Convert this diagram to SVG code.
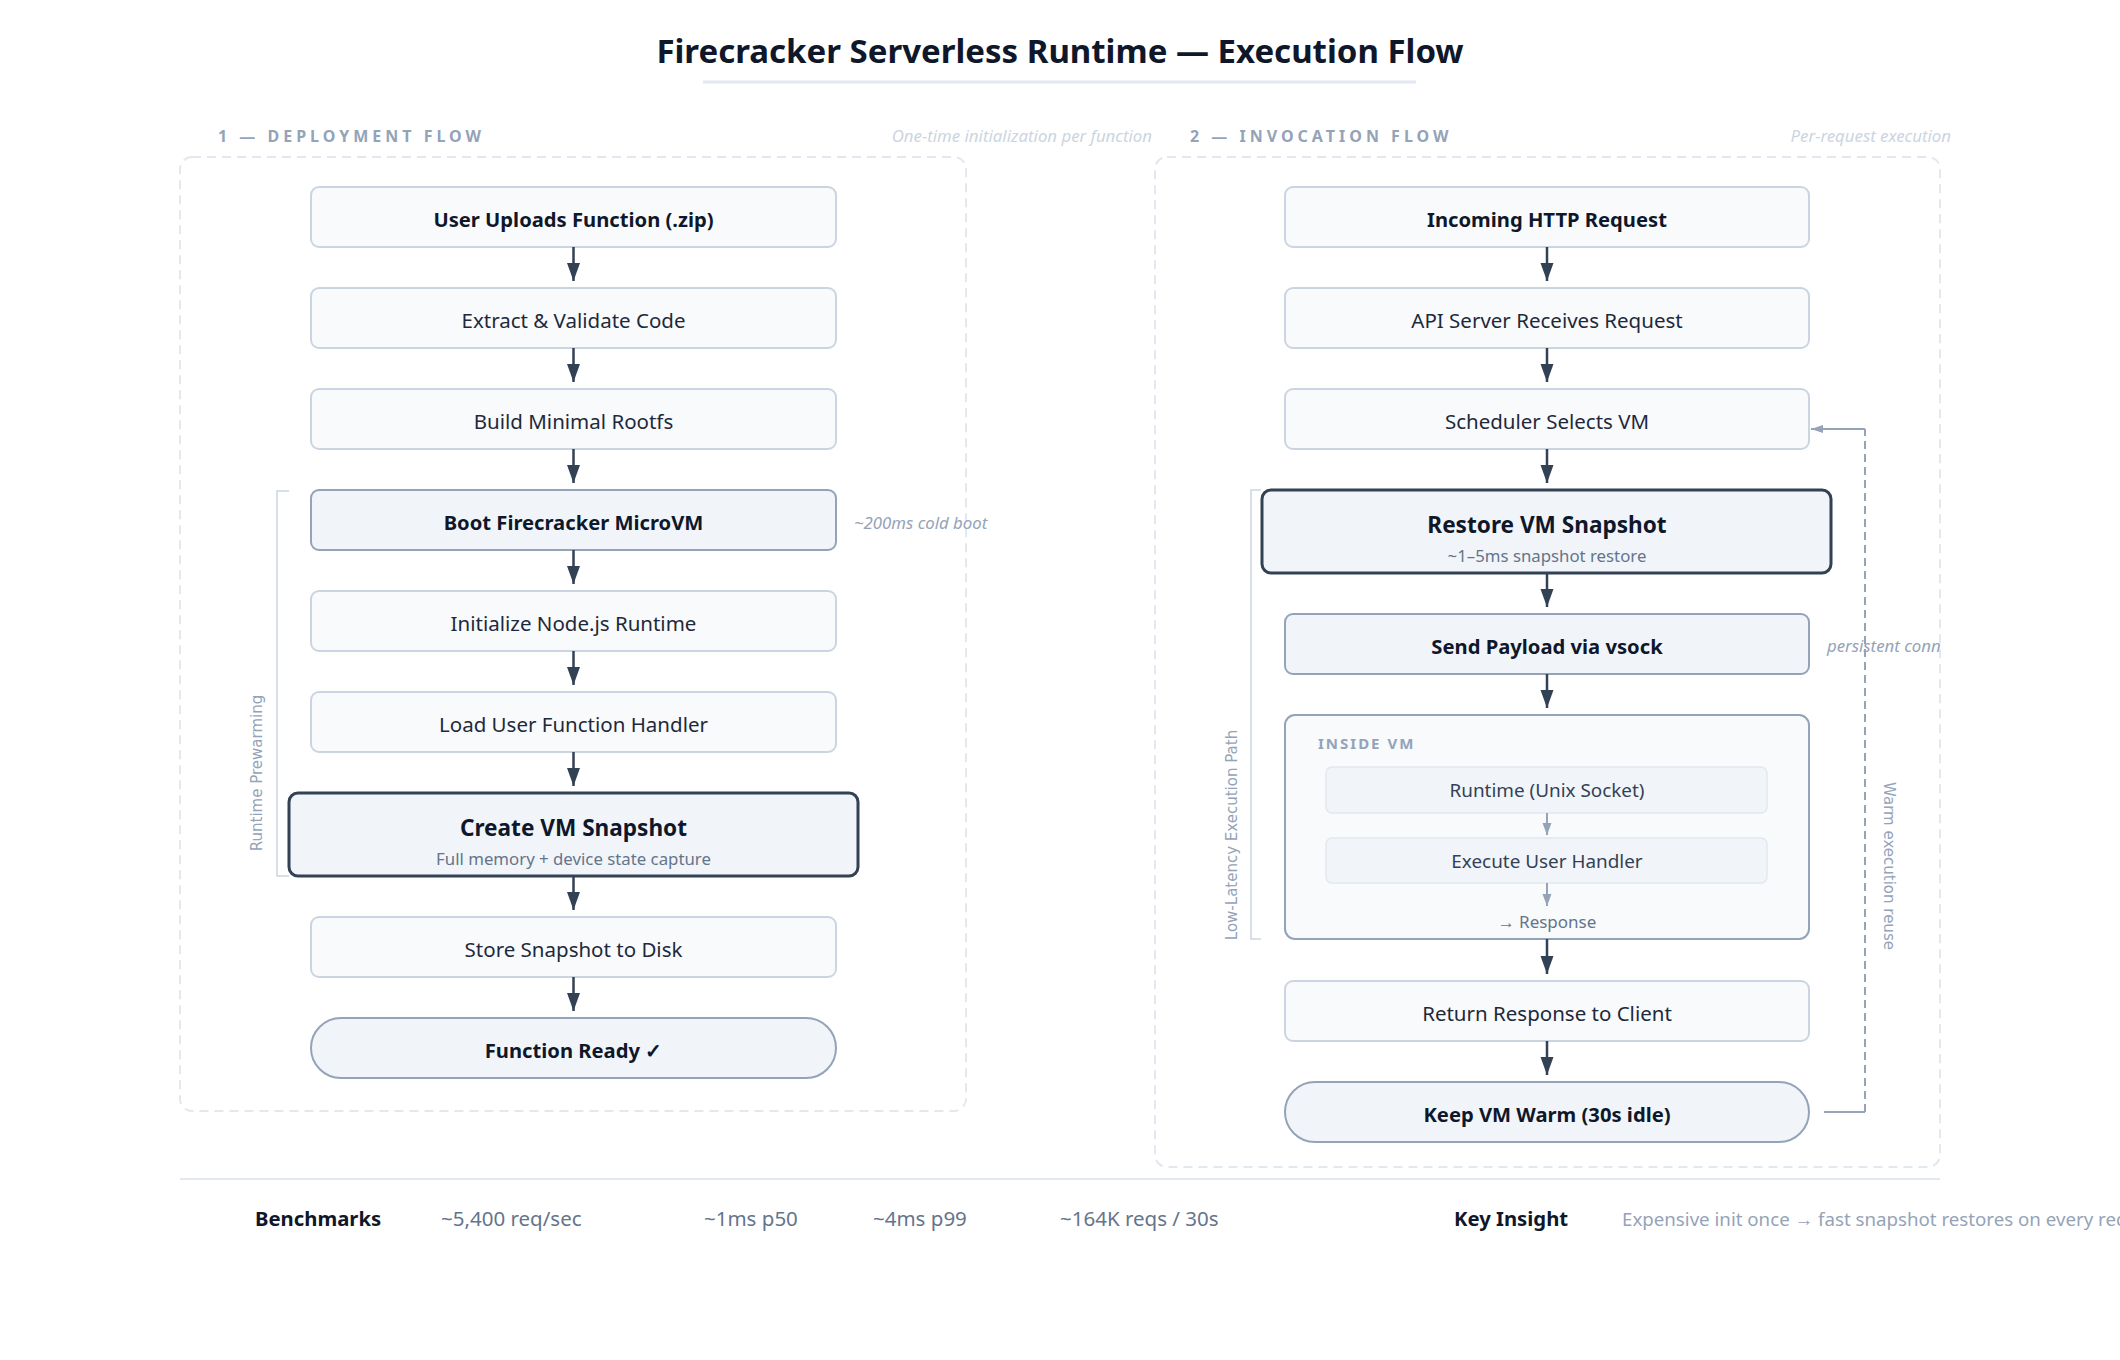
<svg xmlns="http://www.w3.org/2000/svg" width="2120" height="1360" viewBox="0 0 2120 1360">
<defs>
<style>
text{font-family:"Noto Sans","Open Sans","Liberation Sans",sans-serif;}
.title{font-size:33px;font-weight:700;fill:#0f172a;}
.sec{font-size:16px;font-weight:700;fill:#94a3b8;letter-spacing:4px;}
.secnote{font-size:16.8px;font-style:italic;fill:#cbd5e1;}
.box{fill:#f8fafc;stroke:#cbd5e1;stroke-width:2;}
.boxm{fill:#f1f5f9;stroke:#94a3b8;stroke-width:2;}
.boxk{fill:#f1f5f9;stroke:#334155;stroke-width:3;}
.lbl{font-size:20.5px;fill:#1e293b;text-anchor:middle;}
.lblb{font-size:20.2px;font-weight:700;fill:#0f172a;text-anchor:middle;}
.big{font-size:22.6px;font-weight:700;fill:#0f172a;text-anchor:middle;}
.sub{font-size:16.8px;fill:#64748b;text-anchor:middle;}
.note{font-size:16.8px;font-style:italic;fill:#94a3b8;}
.vert{font-family:"DejaVu Sans",sans-serif;font-size:15px;fill:#94a3b8;text-anchor:middle;}
.frame{fill:none;stroke:#e2e8f0;stroke-width:2;stroke-dasharray:9 6;}
.arr{stroke:#334155;stroke-width:2.5;fill:none;marker-end:url(#ah);}
.arrs{stroke:#94a3b8;stroke-width:2;fill:none;marker-end:url(#ahs);}
.brk{fill:none;stroke:#cbd5e1;stroke-width:1.5;}
.inner{fill:#f1f5f9;stroke:#e2e8f0;stroke-width:1.5;}
.ilbl{font-size:18.9px;fill:#334155;text-anchor:middle;}
.bench{font-size:20.5px;fill:#64748b;}
.benchb{font-size:20.3px;font-weight:700;fill:#0f172a;}
.insight{font-size:18.7px;fill:#94a3b8;}
</style>
<marker id="ah" markerUnits="userSpaceOnUse" markerWidth="18" markerHeight="14" refX="18" refY="6.5" orient="auto"><path d="M0,0 L18,6.5 L0,13 z" fill="#334155"/></marker>
<marker id="ahs" markerUnits="userSpaceOnUse" markerWidth="12" markerHeight="10" refX="12" refY="4.5" orient="auto"><path d="M0,0 L12,4.5 L0,9 z" fill="#94a3b8"/></marker>
<marker id="ahl" markerUnits="userSpaceOnUse" markerWidth="12" markerHeight="10" refX="12" refY="4" orient="auto"><path d="M0,0 L12,4 L0,8 z" fill="#94a3b8"/></marker>
</defs>
<rect width="2120" height="1360" fill="#ffffff"/>

<g id="header">
<text class="title" x="1060" y="63" text-anchor="middle">Firecracker Serverless Runtime — Execution Flow</text>
<line x1="703" y1="82" x2="1416" y2="82" stroke="#e2e8f0" stroke-width="3"/>
</g>

<g id="section-deployment">
<text class="sec" x="218" y="142">1 — DEPLOYMENT FLOW</text>
<text class="secnote" x="1152" y="142" text-anchor="end">One-time initialization per function</text>
<rect class="frame" x="180" y="157" width="786" height="954" rx="12"/>
</g>
<g id="section-invocation">
<text class="sec" x="1190" y="142">2 — INVOCATION FLOW</text>
<text class="secnote" x="1951" y="142" text-anchor="end">Per-request execution</text>
<rect class="frame" x="1155" y="157" width="785" height="1010" rx="12"/>
</g>

<g id="annotations">
<path class="brk" d="M289,491 H277 V876 H289"/>
<text class="vert" transform="translate(262,773) rotate(-90)">Runtime Prewarming</text>
<text class="note" x="854" y="529">~200ms cold boot</text>
<path class="brk" d="M1261,490 H1251 V939 H1261"/>
<text class="vert" transform="translate(1237,835) rotate(-90)">Low-Latency Execution Path</text>
<text class="note" x="1827" y="652">persistent conn</text>
<text class="vert" transform="translate(1884,866) rotate(90)">Warm execution reuse</text>
</g>

<g id="n-upload"><rect class="box" x="311" y="187" width="525" height="60" rx="8"/><text class="lblb" x="573.5" y="227">User Uploads Function (.zip)</text></g>
<g id="n-extract"><rect class="box" x="311" y="288" width="525" height="60" rx="8"/><text class="lbl" x="573.5" y="328">Extract &amp; Validate Code</text></g>
<g id="n-rootfs"><rect class="box" x="311" y="389" width="525" height="60" rx="8"/><text class="lbl" x="573.5" y="429">Build Minimal Rootfs</text></g>
<g id="n-boot"><rect class="boxm" x="311" y="490" width="525" height="60" rx="8"/><text class="lblb" x="573.5" y="530">Boot Firecracker MicroVM</text></g>
<g id="n-node"><rect class="box" x="311" y="591" width="525" height="60" rx="8"/><text class="lbl" x="573.5" y="631">Initialize Node.js Runtime</text></g>
<g id="n-handler"><rect class="box" x="311" y="692" width="525" height="60" rx="8"/><text class="lbl" x="573.5" y="732">Load User Function Handler</text></g>
<g id="n-snapshot"><rect class="boxk" x="289" y="793" width="569" height="83" rx="9"/><text class="big" x="573.5" y="836">Create VM Snapshot</text><text class="sub" x="573.5" y="865">Full memory + device state capture</text></g>
<g id="n-store"><rect class="box" x="311" y="917" width="525" height="60" rx="8"/><text class="lbl" x="573.5" y="957">Store Snapshot to Disk</text></g>
<g id="n-ready"><rect class="boxm" x="311" y="1018" width="525" height="60" rx="30"/><text class="lblb" x="573.5" y="1058">Function Ready ✓</text></g>

<g id="r-http"><rect class="box" x="1285" y="187" width="524" height="60" rx="8"/><text class="lblb" x="1547" y="227">Incoming HTTP Request</text></g>
<g id="r-api"><rect class="box" x="1285" y="288" width="524" height="60" rx="8"/><text class="lbl" x="1547" y="328">API Server Receives Request</text></g>
<g id="r-sched"><rect class="box" x="1285" y="389" width="524" height="60" rx="8"/><text class="lbl" x="1547" y="429">Scheduler Selects VM</text></g>
<g id="r-restore"><rect class="boxk" x="1262" y="490" width="569" height="83" rx="9"/><text class="big" x="1547" y="533">Restore VM Snapshot</text><text class="sub" x="1547" y="562">~1–5ms snapshot restore</text></g>
<g id="r-vsock"><rect class="boxm" x="1285" y="614" width="524" height="60" rx="8"/><text class="lblb" x="1547" y="654">Send Payload via vsock</text></g>
<g id="r-insidevm">
<rect x="1285" y="715" width="524" height="224" rx="10" fill="#f8fafc" stroke="#94a3b8" stroke-width="2"/>
<text x="1318" y="749" font-size="15" font-weight="700" fill="#94a3b8" letter-spacing="2">INSIDE VM</text>
<g id="r-runtime"><rect class="inner" x="1326" y="767" width="441" height="46" rx="6"/><text class="ilbl" x="1547" y="797">Runtime (Unix Socket)</text></g>
<g id="r-exec"><rect class="inner" x="1326" y="838" width="441" height="45" rx="6"/><text class="ilbl" x="1547" y="868">Execute User Handler</text></g>
<text x="1547" y="928" font-size="17" fill="#64748b" text-anchor="middle">→ Response</text>
</g>
<g id="r-return"><rect class="box" x="1285" y="981" width="524" height="60" rx="8"/><text class="lbl" x="1547" y="1021">Return Response to Client</text></g>
<g id="r-warm"><rect class="boxm" x="1285" y="1082" width="524" height="60" rx="30"/><text class="lblb" x="1547" y="1122">Keep VM Warm (30s idle)</text></g>

<g id="connectors">
<line class="arr" x1="573.5" y1="247" x2="573.5" y2="281"/>
<line class="arr" x1="573.5" y1="348" x2="573.5" y2="382"/>
<line class="arr" x1="573.5" y1="449" x2="573.5" y2="483"/>
<line class="arr" x1="573.5" y1="550" x2="573.5" y2="584"/>
<line class="arr" x1="573.5" y1="651" x2="573.5" y2="685"/>
<line class="arr" x1="573.5" y1="752" x2="573.5" y2="786"/>
<line class="arr" x1="573.5" y1="876" x2="573.5" y2="910"/>
<line class="arr" x1="573.5" y1="977" x2="573.5" y2="1011"/>
<line class="arr" x1="1547" y1="247" x2="1547" y2="281"/>
<line class="arr" x1="1547" y1="348" x2="1547" y2="382"/>
<line class="arr" x1="1547" y1="449" x2="1547" y2="483"/>
<line class="arr" x1="1547" y1="573" x2="1547" y2="607"/>
<line class="arr" x1="1547" y1="674" x2="1547" y2="708"/>
<line class="arr" x1="1547" y1="939" x2="1547" y2="974"/>
<line class="arr" x1="1547" y1="1041" x2="1547" y2="1075"/>
<line class="arrs" x1="1547" y1="813" x2="1547" y2="835"/>
<line class="arrs" x1="1547" y1="883" x2="1547" y2="906"/>
<path d="M1824,1112 H1865" stroke="#94a3b8" stroke-width="2" fill="none"/>
<path d="M1865,1112 V429" stroke="#94a3b8" stroke-width="2" fill="none" stroke-dasharray="8 5"/>
<path d="M1865,429 H1811" stroke="#94a3b8" stroke-width="2" fill="none" marker-end="url(#ahl)"/>
</g>

<g id="footer">
<line x1="180" y1="1179" x2="1940" y2="1179" stroke="#e2e8f0" stroke-width="2"/>
<text class="benchb" x="255" y="1226">Benchmarks</text>
<text class="bench" x="441" y="1226">~5,400 req/sec</text>
<text class="bench" x="704" y="1226">~1ms p50</text>
<text class="bench" x="873" y="1226">~4ms p99</text>
<text class="bench" x="1060" y="1226">~164K reqs / 30s</text>
<text class="benchb" x="1454" y="1226">Key Insight</text>
<text class="insight" x="1622" y="1226">Expensive init once → fast snapshot restores on every request</text>
</g>
</svg>
